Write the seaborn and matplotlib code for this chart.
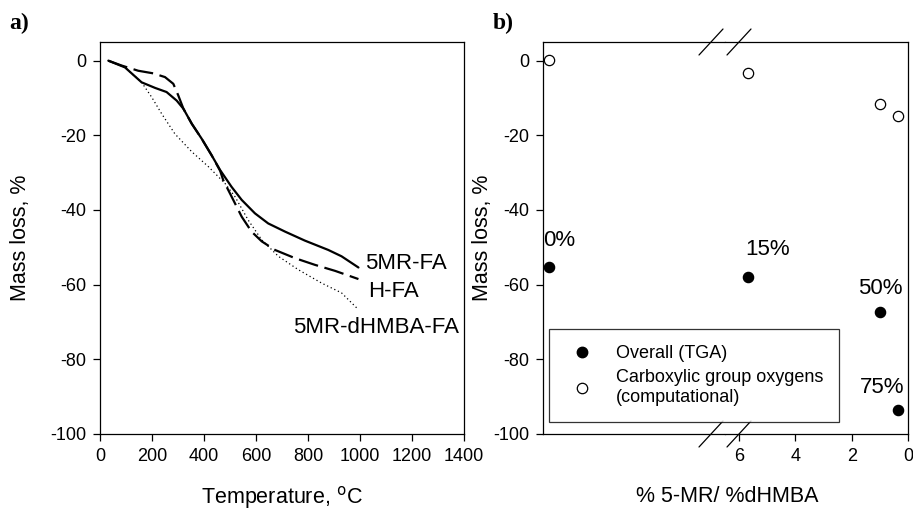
import numpy as np
import pandas as pd
import matplotlib
matplotlib.use("Agg")
import matplotlib.pyplot as plt
import seaborn as sns
from matplotlib.lines import Line2D

# ---------------- data: panel a (TGA curves) ----------------
t_5mr = [32, 96, 160, 212, 256, 295, 321, 353, 391, 429, 462, 506, 545, 596, 647, 712, 788, 878, 929, 994]
m_5mr = [0, -1.8, -5.8, -7.3, -8.4, -10.7, -12.9, -16.9, -20.9, -25.3, -29.3, -33.8, -37.3, -40.9, -43.6, -45.8, -48.2, -50.7, -52.4, -55.4]

t_hfa = [32, 83, 147, 205, 250, 282, 301, 321, 353, 391, 429, 462, 474, 506, 545, 583, 622, 673, 750, 827, 904, 994]
m_hfa = [0, -1.3, -2.7, -3.4, -4.4, -6.2, -9.3, -12.9, -16.9, -20.9, -25.3, -29.5, -32.0, -36.4, -41.8, -45.8, -48.4, -50.7, -52.9, -54.7, -56.3, -58.5]

t_dh = [32, 96, 160, 199, 237, 288, 353, 417, 481, 519, 570, 622, 686, 763, 853, 929, 987]
m_dh = [0, -1.8, -5.8, -9.8, -14.2, -19.6, -24.4, -28.4, -32.9, -36.4, -42.7, -48.0, -52.4, -56.0, -59.6, -62.2, -66.2]

curve_names = ["5MR-FA", "H-FA", "5MR-dHMBA-FA"]

# ---------------- data: panel b ----------------
sample_labels = ["0%", "15%", "50%", "75%"]
ratio = [np.inf, 5.68, 1.0, 0.36]          # % 5-MR / % dHMBA (0% dHMBA -> beyond axis break)
overall_tga = [-55.3, -58.0, -67.2, -93.7]
carboxyl_comp = [0.2, -3.3, -11.6, -14.7]
x_ticks_b = [6, 4, 2, 0]

# label offsets (points) for the percentage annotations
label_offsets = {"0%": (-4.5, 19), "15%": (-2, 20), "50%": (-16, 16.5), "75%": (-27, 16.5)}

# ---------------- style ----------------
sns.set_style("ticks")
plt.rcParams["font.family"] = ["Liberation Sans", "DejaVu Sans"]
plt.rcParams["axes.unicode_minus"] = False
plt.rcParams["axes.linewidth"] = 0.9
plt.rcParams["xtick.major.width"] = 0.9
plt.rcParams["ytick.major.width"] = 0.9
plt.rcParams["xtick.major.size"] = 5
plt.rcParams["ytick.major.size"] = 5
plt.rcParams["axes.edgecolor"] = "black"
plt.rcParams["xtick.color"] = "black"
plt.rcParams["ytick.color"] = "black"
plt.rcParams["xtick.labelcolor"] = "black"
plt.rcParams["ytick.labelcolor"] = "black"
plt.rcParams["text.color"] = "black"
plt.rcParams["axes.labelcolor"] = "black"

W, H = 913, 509
fig = plt.figure(figsize=(W / 100, H / 100), dpi=100)

def rect(x0, x1, y_top, y_bot):
    return [x0 / W, 1 - y_bot / H, (x1 - x0) / W, (y_bot - y_top) / H]

tick_fs = 13
lab_fs = 15.5

# ---------------- panel a ----------------
axA = fig.add_axes(rect(100, 464, 42, 434))
dfa = pd.concat([
    pd.DataFrame({"T": t_5mr, "m": m_5mr, "s": curve_names[0]}),
    pd.DataFrame({"T": t_hfa, "m": m_hfa, "s": curve_names[1]}),
    pd.DataFrame({"T": t_dh, "m": m_dh, "s": curve_names[2]}),
])
styles = {curve_names[0]: dict(ls="-", lw=1.6),
          curve_names[1]: dict(ls=(0, (9, 3)), lw=1.6),
          curve_names[2]: dict(ls=(0, (1, 2.2)), lw=0.9)}
for name in curve_names:
    sub = dfa[dfa["s"] == name]
    sns.lineplot(data=sub, x="T", y="m", ax=axA, color="black", sort=False,
                 estimator=None, legend=False, **styles[name])
axA.set_xlim(0, 1400)
axA.set_ylim(-100, 5)
axA.set_xticks(np.arange(0, 1401, 200))
axA.set_yticks(np.arange(-100, 1, 20))
axA.tick_params(labelsize=tick_fs, direction="out", pad=5)
axA.set_xlabel("Temperature, $^{\\mathrm{o}}$C", fontsize=lab_fs)
axA.xaxis.set_label_coords(0.5, -(497 - 434) / 392, transform=axA.transAxes)
axA.xaxis.label.set_va("center")
axA.set_ylabel("Mass loss, %", fontsize=lab_fs)
axA.yaxis.set_label_coords((20 - 100) / 364, 0.5)
axA.yaxis.label.set_va("center")
axA.text(1019, -54.3, curve_names[0], fontsize=16, va="center", ha="left")
axA.text(1032, -61.8, curve_names[1], fontsize=16, va="center", ha="left")
axA.text(741, -71.6, curve_names[2], fontsize=16, va="center", ha="left")
fig.text(9 / W, 1 - 23 / H, "a)", fontsize=17, fontweight="bold",
         family=["Liberation Serif", "DejaVu Serif"], va="center", ha="left")

# ---------------- panel b (broken x axis) ----------------
axL = fig.add_axes(rect(543, 725, 42, 434))
axR = fig.add_axes(rect(725, 908, 42, 434))
dfb = pd.DataFrame({"label": sample_labels, "ratio": ratio,
                    "overall": overall_tga, "carb": carboxyl_comp})
left = dfb[~np.isfinite(dfb["ratio"])].assign(pos=0.0)
right = dfb[np.isfinite(dfb["ratio"])]

mk = dict(s=55, linewidth=0.9, edgecolor="black", legend=False)
for ax, d, xcol in [(axL, left, "pos"), (axR, right, "ratio")]:
    sns.scatterplot(data=d, x=xcol, y="overall", ax=ax, color="black", zorder=3, clip_on=False, **mk)
    sns.scatterplot(data=d, x=xcol, y="carb", ax=ax, color="white", zorder=3, clip_on=False, **mk)
    for _, r in d.iterrows():
        ax.annotate(r["label"], (r[xcol], r["overall"]), xytext=label_offsets[r["label"]],
                    textcoords="offset points", fontsize=16, ha="left", va="center")

axL.set_xlim(-0.2, 5.8)
axR.set_xlim(6.5, 0)
for ax in (axL, axR):
    ax.set_ylim(-100, 5)
    ax.set_xlabel("")
    ax.set_ylabel("")
    ax.tick_params(labelsize=tick_fs, direction="out", pad=5)
axL.spines["right"].set_visible(False)
axR.spines["left"].set_visible(False)
axL.set_xticks([])
axR.set_yticks([])
axR.set_xticks(x_ticks_b)
axL.set_yticks(np.arange(-100, 1, 20))
axL.set_ylabel("Mass loss, %", fontsize=lab_fs)
axL.yaxis.set_label_coords((482 - 543) / 182, 0.5)
axL.yaxis.label.set_va("center")
fig.text(727 / W, 1 - 497 / H, "% 5-MR/ %dHMBA", fontsize=lab_fs,
         ha="center", va="center")

# break marks
for yb in (42, 434):
    for xc in (711, 739):
        fig.add_artist(Line2D([(xc - 12) / W, (xc + 12) / W],
                              [1 - (yb + 13) / H, 1 - (yb - 13) / H],
                              color="black", lw=0.9))

# legend
handles = [Line2D([], [], marker="o", ls="none", mfc="black", mec="black", ms=7.5),
           Line2D([], [], marker="o", ls="none", mfc="white", mec="black", ms=7.5, mew=0.9)]
leg = fig.legend(handles, ["Overall (TGA)", "Carboxylic group oxygens\n(computational)"],
                 loc="upper left", bbox_to_anchor=(549 / W, 1 - 329 / H), borderaxespad=0,
                 frameon=True, fancybox=False, edgecolor="black", fontsize=13,
                 handletextpad=1.0, borderpad=0.9, labelspacing=0.4, handlelength=1.8)
leg.get_frame().set_linewidth(0.9)

fig.text(493 / W, 1 - 23 / H, "b)", fontsize=17, fontweight="bold",
         family=["Liberation Serif", "DejaVu Serif"], va="center", ha="left")

fig.savefig("out.png", dpi=100)
